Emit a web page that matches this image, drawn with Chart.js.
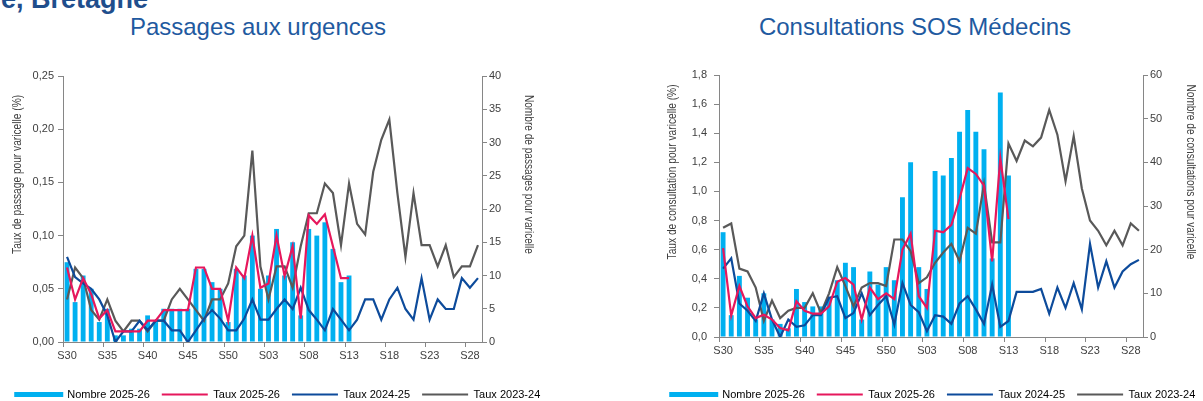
<!DOCTYPE html>
<html lang="fr">
<head>
<meta charset="utf-8">
<title>Varicelle, Bretagne</title>
<script src="https://cdn.jsdelivr.net/npm/chart.js@4.4.1/dist/chart.umd.min.js"></script>
<style>
  html, body { margin: 0; padding: 0; background: #fff; width: 1203px; height: 401px; overflow: hidden; position: relative; }
  .box { position: absolute; top: 0; height: 410px; }
  #urg-box { left: 0; width: 556px; }
  #sos-box { left: 655px; width: 556px; }
  .titre { position: absolute; top: 15px; font-family: Arial, 'Liberation Sans', sans-serif; font-size: 24px; line-height: 24px; color: #1f5aa0; white-space: nowrap; transform: translateX(-50%); }
  .region { position: absolute; right: 1055px; top: -14px; font-family: Arial, 'Liberation Sans', sans-serif; font-weight: bold; font-size: 27px; line-height: 27px; color: #1f4e8c; white-space: nowrap; }
</style>
</head>
<body>
<div class="region">Varicelle, Bretagne</div>
<div class="titre" style="left:258px">Passages aux urgences</div>
<div class="titre" style="left:915px">Consultations SOS Médecins</div>
<div class="box" id="urg-box"><canvas id="urgences"></canvas></div>
<div class="box" id="sos-box"><canvas id="sos"></canvas></div>

<script>
// Semaines S30 -> S29
const weeks = [
  'S30', 'S31', 'S32', 'S33', 'S34', 'S35', 'S36', 'S37', 'S38', 'S39',
  'S40', 'S41', 'S42', 'S43', 'S44', 'S45', 'S46', 'S47', 'S48', 'S49',
  'S50', 'S51', 'S52', 'S01', 'S02', 'S03', 'S04', 'S05', 'S06', 'S07',
  'S08', 'S09', 'S10', 'S11', 'S12', 'S13', 'S14', 'S15', 'S16', 'S17',
  'S18', 'S19', 'S20', 'S21', 'S22', 'S23', 'S24', 'S25', 'S26', 'S27',
  'S28', 'S29'
];

const seriesLabels = ['Nombre 2025-26', 'Taux 2025-26', 'Taux 2024-25', 'Taux 2023-24'];

// Passages aux urgences
const urgNombre2526 = [12, 6, 10, 8, 3, 5, 1, 1, 2, 2, 4, 3, 5, 5, 5, 5, 11, 11, 9, 8,
  3, 11, 10, 16, 8, 10, 17, 10, 15, 4, 17, 16, 18, 14, 9, 10];
const urgTaux2526 = [0.07, 0.04, 0.06, 0.045, 0.022, 0.03, 0.01, 0.01, 0.01, 0.01,
  0.02, 0.02, 0.03, 0.03, 0.03, 0.03, 0.07, 0.07, 0.05, 0.05,
  0.02, 0.07, 0.06, 0.10, 0.051, 0.055, 0.10, 0.062, 0.09, 0.022,
  0.119, 0.111, 0.12, 0.09, 0.06, 0.06];
const urgTaux2425 = [0.08, 0.061, 0.055, 0.05, 0.04, 0.025, 0.0, 0.01, 0.01, 0.02,
  0.011, 0.02, 0.02, 0.011, 0.011, 0.0, 0.011, 0.022, 0.03, 0.022,
  0.011, 0.011, 0.022, 0.04, 0.021, 0.021, 0.031, 0.04, 0.031, 0.051,
  0.03, 0.021, 0.011, 0.031, 0.021, 0.011, 0.021, 0.04, 0.04, 0.021,
  0.04, 0.051, 0.031, 0.021, 0.06, 0.021, 0.04, 0.031, 0.031, 0.06,
  0.051, 0.06];
const urgTaux2324 = [0.04, 0.07, 0.06, 0.03, 0.021, 0.04, 0.02, 0.01, 0.02, 0.02,
  0.01, 0.02, 0.02, 0.04, 0.05, 0.04, 0.03, 0.02, 0.04, 0.04,
  0.055, 0.09, 0.10, 0.18, 0.071, 0.04, 0.071, 0.071, 0.051, 0.09,
  0.121, 0.121, 0.149, 0.14, 0.091, 0.149, 0.111, 0.101, 0.16, 0.19,
  0.209, 0.14, 0.08, 0.14, 0.091, 0.091, 0.071, 0.091, 0.061, 0.071,
  0.071, 0.091];
const urgRateTicks = { max: 0.25, step: 0.05, decimals: 2 };
const urgCountTicks = { max: 40, step: 5 };

// Consultations SOS Medecins
const sosNombre2526 = [24, 5, 14, 9, 4, 10, 4, 3, 2, 11, 8, 7, 7, 9, 13, 17, 16, 4, 15, 12,
  16, 13, 32, 40, 16, 11, 38, 37, 41, 47, 52, 47, 43, 18, 56, 37];
const sosTaux2526 = [0.61, 0.147, 0.35, 0.21, 0.13, 0.153, 0.12, 0.062, 0.046, 0.245,
  0.18, 0.16, 0.16, 0.21, 0.38, 0.405, 0.36, 0.12, 0.34, 0.26,
  0.30, 0.26, 0.60, 0.71, 0.28, 0.20, 0.73, 0.72, 0.77, 0.95,
  1.16, 1.12, 1.04, 0.52, 1.23, 0.81];
const sosTaux2425 = [0.47, 0.54, 0.23, 0.18, 0.11, 0.30, 0.12, 0.0, 0.12, 0.07,
  0.08, 0.15, 0.15, 0.27, 0.28, 0.13, 0.165, 0.30, 0.15, 0.22,
  0.28, 0.085, 0.37, 0.22, 0.17, 0.04, 0.15, 0.14, 0.09, 0.23,
  0.28, 0.19, 0.09, 0.36, 0.07, 0.11, 0.31, 0.31, 0.31, 0.33,
  0.16, 0.34, 0.20, 0.37, 0.19, 0.64, 0.34, 0.52, 0.34, 0.45,
  0.50, 0.53];
const sosTaux2324 = [0.75, 0.78, 0.47, 0.45, 0.34, 0.11, 0.25, 0.13, 0.18, 0.20,
  0.20, 0.30, 0.165, 0.30, 0.48, 0.35, 0.21, 0.34, 0.37, 0.37,
  0.35, 0.67, 0.67, 0.59, 0.37, 0.41, 0.51, 0.58, 0.64, 0.52,
  0.75, 0.71, 1.05, 0.65, 0.65, 1.33, 1.21, 1.35, 1.31, 1.37,
  1.56, 1.39, 1.07, 1.38, 1.02, 0.80, 0.73, 0.63, 0.73, 0.63,
  0.78, 0.73];
const sosRateTicks = { max: 1.8, step: 0.2, decimals: 1 };
const sosCountTicks = { max: 60, step: 10 };

const COLORS = {
  bar: '#00b0f0',
  taux2526: '#e6175c',
  taux2425: '#0d4b9b',
  taux2324: '#595959',
  axis: '#868686',
  text: '#404040'
};

const FONT = "Arial, 'Liberation Sans', sans-serif";
Chart.defaults.font.family = FONT;
Chart.defaults.color = COLORS.text;

/**
 * Draws the rotated axis titles, squeezed to the narrow width of the original.
 */
const axisTitlePlugin = {
  id: 'axisTitles',
  afterDraw(chart, args, opts) {
    const { ctx, chartArea } = chart;
    const yc = chartArea.top + 0.37 * (chartArea.bottom - chartArea.top);
    const draw = (text, x, angle, target) => {
      ctx.save();
      ctx.font = "12px 'Liberation Sans Narrow', " + FONT;
      ctx.fillStyle = COLORS.text;
      ctx.textAlign = 'center';
      ctx.textBaseline = 'middle';
      ctx.translate(x, yc);
      ctx.rotate(angle);
      const w = ctx.measureText(text).width;
      ctx.scale(target / w, 1);
      ctx.fillText(text, 0, 0);
      ctx.restore();
    };
    draw(opts.left, opts.leftX, -Math.PI / 2, opts.length);
    draw(opts.right, opts.rightX, Math.PI / 2, opts.length);
  }
};

function tickColorEvery5(ctx) {
  return ctx.index % 5 === 0 ? COLORS.axis : 'rgba(0,0,0,0)';
}

/**
 * Create the combined bar + line chart.
 */
function createVaricelleChart(canvasId, series, layout) {
  const ctx = document.getElementById(canvasId).getContext('2d');

  const datasets = [
    {
      type: 'bar', label: seriesLabels[0], data: series.nombre,
      backgroundColor: COLORS.bar, borderColor: COLORS.bar, borderWidth: 0,
      yAxisID: 'y1', order: 4, barPercentage: 0.6, categoryPercentage: 1.0
    },
    {
      type: 'line', label: seriesLabels[1], data: series.taux2526,
      borderColor: COLORS.taux2526, yAxisID: 'y', order: 1
    },
    {
      type: 'line', label: seriesLabels[2], data: series.taux2425,
      borderColor: COLORS.taux2425, yAxisID: 'y', order: 2
    },
    {
      type: 'line', label: seriesLabels[3], data: series.taux2324,
      borderColor: COLORS.taux2324, yAxisID: 'y', order: 3
    }
  ];

  datasets.forEach(ds => {
    if (ds.type === 'line') {
      ds.borderWidth = 2.2;
      ds.pointRadius = 0;
      ds.tension = 0;
      ds.fill = false;
    }
  });

  const config = {
    type: 'bar',
    data: { labels: weeks, datasets: datasets },
    plugins: [axisTitlePlugin],
    options: {
      responsive: true,
      maintainAspectRatio: false,
      animation: false,
      layout: { padding: { top: layout.top, left: 0, right: 0, bottom: 0 } },
      plugins: {
        tooltip: { enabled: false },
        axisTitles: {
          left: layout.leftTitle, right: layout.rightTitle,
          leftX: layout.leftTitleX, rightX: layout.rightTitleX, length: layout.titleLength
        },
        legend: {
          position: 'bottom',
          labels: {
            boxWidth: 46,
            boxHeight: 2,
            padding: 12,
            color: '#222',
            font: { size: 11, family: FONT },
            generateLabels: chart => chart.data.datasets.map((ds, i) => ({
              text: ds.label,
              fillStyle: ds.type === 'line' ? ds.borderColor : ds.backgroundColor,
              strokeStyle: ds.type === 'line' ? ds.borderColor : ds.backgroundColor,
              lineWidth: ds.type === 'line' ? 0 : 3,
              hidden: false,
              datasetIndex: i
            }))
          }
        }
      },
      scales: {
        x: {
          offset: true,
          grid: { drawOnChartArea: false, offset: true, tickLength: 5, tickColor: tickColorEvery5 },
          border: { display: true, color: COLORS.axis },
          ticks: {
            autoSkip: false, maxRotation: 0, padding: 2,
            font: { size: 11 }, color: COLORS.text,
            callback: function(value, index) {
              return index % 5 === 0 ? this.getLabelForValue(value) : '';
            }
          },
          afterFit: scale => { scale.height = layout.xHeight; }
        },
        y: {
          position: 'left',
          min: 0, max: layout.rate.max,
          grid: { drawOnChartArea: false, tickLength: 5, tickColor: COLORS.axis },
          border: { display: true, color: COLORS.axis },
          ticks: {
            stepSize: layout.rate.step, padding: layout.leftPad,
            font: { size: 11 }, color: COLORS.text,
            callback: v => v.toFixed(layout.rate.decimals).replace('.', ',')
          },
          afterFit: scale => { scale.width = layout.leftWidth; }
        },
        y1: {
          position: 'right',
          min: 0, max: layout.count.max,
          grid: { drawOnChartArea: false, tickLength: 5, tickColor: COLORS.axis },
          border: { display: true, color: COLORS.axis },
          ticks: {
            stepSize: layout.count.step, padding: 2,
            font: { size: 11 }, color: COLORS.text
          },
          afterFit: scale => { scale.width = layout.rightWidth; }
        }
      }
    }
  };

  return new Chart(ctx, config);
}

createVaricelleChart('urgences', {
  nombre: urgNombre2526, taux2526: urgTaux2526, taux2425: urgTaux2425, taux2324: urgTaux2324
}, {
  top: 76, xHeight: 35, leftWidth: 63, rightWidth: 74, leftPad: 4,
  rate: urgRateTicks, count: urgCountTicks,
  leftTitle: 'Taux de passage pour varicelle (%)',
  rightTitle: 'Nombre de passages pour varicelle',
  leftTitleX: 18, rightTitleX: 528, titleLength: 159
});

createVaricelleChart('sos', {
  nombre: sosNombre2526, taux2526: sosTaux2526, taux2425: sosTaux2425, taux2324: sosTaux2324
}, {
  top: 75, xHeight: 40, leftWidth: 64, rightWidth: 68, leftPad: 7,
  rate: sosRateTicks, count: sosCountTicks,
  leftTitle: 'Taux de consultation pour varicelle (%)',
  rightTitle: 'Nombre de consultations pour varicelle',
  leftTitleX: 18, rightTitleX: 535, titleLength: 175
});
</script>
</body>
</html>
